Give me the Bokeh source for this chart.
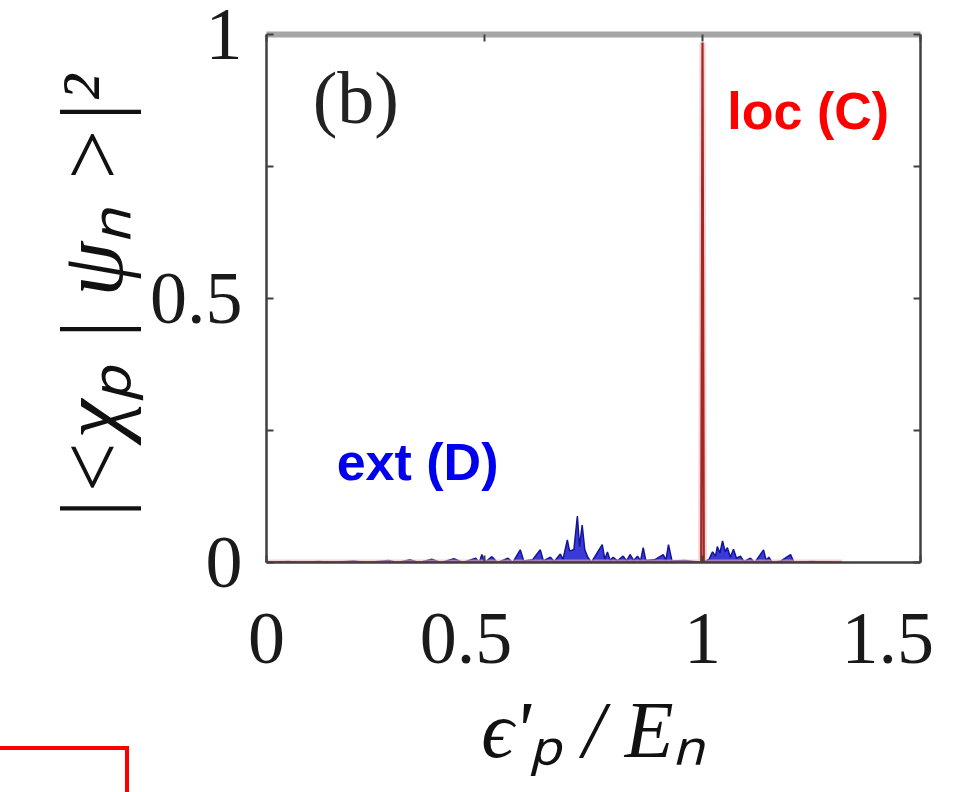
from bokeh.plotting import figure
from bokeh.models import LinearAxis, FixedTicker, Range1d, ColumnDataSource, Div
from bokeh.layouts import column
from bokeh.core.properties import value
from bokeh.embed import file_html
from bokeh.resources import INLINE

# ---- data ----
blue_x = [0.00, 0.05, 0.08, 0.12, 0.15, 0.20, 0.23, 0.28, 0.30, 0.33, 0.35, 0.38, 0.40, 0.43, 0.45,
          0.48, 0.488, 0.494, 0.50, 0.517, 0.53, 0.554, 0.565, 0.582, 0.59, 0.61, 0.628, 0.635,
          0.651, 0.66, 0.674, 0.68, 0.690, 0.695, 0.705, 0.713, 0.718, 0.724, 0.73, 0.737, 0.745,
          0.770, 0.776, 0.782, 0.788, 0.795, 0.805, 0.818, 0.826, 0.834, 0.842, 0.851, 0.858,
          0.864, 0.870, 0.890, 0.910, 0.916, 0.922, 0.930, 0.960, 0.980, 1.000, 1.015, 1.023,
          1.030, 1.034, 1.040, 1.046, 1.052, 1.057, 1.064, 1.071, 1.078, 1.087, 1.095, 1.110,
          1.120, 1.140, 1.146, 1.152, 1.160, 1.180, 1.202, 1.210, 1.250, 1.300]
blue_y = [0.000, 0.002, 0.000, 0.002, 0.000, 0.003, 0.000, 0.004, 0.000, 0.005, 0.000, 0.006, 0.000, 0.007, 0.000,
          0.008, 0.000, 0.015, 0.000, 0.011, 0.000, 0.008, 0.000, 0.024, 0.003, 0.005, 0.024, 0.003,
          0.010, 0.002, 0.016, 0.006, 0.043, 0.022, 0.024, 0.088, 0.030, 0.071, 0.024, 0.010, 0.000,
          0.034, 0.006, 0.020, 0.004, 0.010, 0.003, 0.012, 0.003, 0.015, 0.004, 0.012, 0.003,
          0.028, 0.004, 0.005, 0.015, 0.004, 0.034, 0.003, 0.004, 0.002, 0.000, 0.006, 0.020,
          0.012, 0.030, 0.018, 0.041, 0.020, 0.028, 0.010, 0.025, 0.008, 0.012, 0.002, 0.008,
          0.000, 0.024, 0.004, 0.010, 0.000, 0.003, 0.015, 0.000, 0.002, 0.000]

red_x = [0.000, 0.997, 1.000, 1.003, 1.320]
red_y = [0.000, 0.000, 0.985, 0.000, 0.000]

x_ticks = [0, 0.5, 1, 1.5]
x_tick_labels = ["0", "0.5\u00a0\u00a0", "1", "1.5\u00a0"]
y_ticks = [0, 0.25, 0.5, 0.75, 1]
y_tick_labels = ["0", "", "0.5", "", "1"]

SERIF = "Liberation Serif"
SANS = "Liberation Sans"

p = figure(width=952, height=776, output_backend="svg", toolbar_location=None,
           x_range=Range1d(0, 1.5), y_range=Range1d(0, 1.0),
           x_axis_location=None, y_axis_location=None,
           min_border_left=266, min_border_right=32, min_border_top=34, min_border_bottom=211)
p.outline_line_color = None
p.grid.visible = False
p.background_fill_color = "white"
p.border_fill_color = "white"

# ---- axes ----
def style_axis(ax, ticks, labels, line_color, line_width, show_labels):
    ax.ticker = FixedTicker(ticks=ticks)
    ax.major_label_overrides = {t: (l if show_labels else "") for t, l in zip(ticks, labels)}
    ax.axis_line_color = line_color
    ax.axis_line_width = line_width
    ax.major_tick_line_color = "#404040"
    ax.major_tick_line_width = 2
    ax.major_tick_in = 7
    ax.major_tick_out = 0
    ax.minor_tick_line_color = None
    ax.major_label_text_font = SERIF
    ax.major_label_text_font_size = "74px"
    ax.major_label_text_color = "#1a1a1a"

left = LinearAxis()
style_axis(left, y_ticks, y_tick_labels, "#404040", 2.5, True)
left.major_label_standoff = 24
left.axis_label = "|<χₚ | ψₙ >|²"
left.axis_label_text_font = SERIF
left.axis_label_text_font_style = "italic"
left.axis_label_text_font_size = "88px"
left.axis_label_text_color = "#111111"
left.axis_label_standoff = 6
p.add_layout(left, "left")

right = LinearAxis()
style_axis(right, y_ticks, y_tick_labels, "#404040", 2.5, False)
right.major_label_standoff = 0
p.add_layout(right, "right")

bottom = LinearAxis()
style_axis(bottom, x_ticks, x_tick_labels, "#404040", 2.5, True)
bottom.major_label_standoff = 34
bottom.axis_label = "ϵ'ₚ / Eₙ"
bottom.axis_label_text_font = SERIF
bottom.axis_label_text_font_style = "italic"
bottom.axis_label_text_font_size = "80px"
bottom.axis_label_text_color = "#111111"
bottom.axis_label_standoff = 4
p.add_layout(bottom, "below")

top = LinearAxis()
style_axis(top, x_ticks, x_tick_labels, "#a6a6a6", 6, False)
top.major_label_standoff = 0
p.add_layout(top, "above")

# ---- data glyphs ----
src_b = ColumnDataSource(dict(x=blue_x, y=blue_y, y0=[0] * len(blue_x)))
p.varea(x="x", y1="y0", y2="y", source=src_b, fill_color="#1818d0", fill_alpha=0.85)
p.line(x="x", y="y", source=src_b, line_color="#14149a", line_width=1.5)

p.line(x=red_x, y=red_y, line_color="#f4b0b0", line_width=6, line_alpha=0.6)
p.line(x=red_x, y=red_y, line_color="#a02828", line_width=2.2)

# ---- texts ----
p.text(x=[0.106], y=[0.88], text=["(b)"], text_font=value(SERIF), text_font_size="74px",
       text_color="#222222", text_baseline="alphabetic")
p.text(x=[1.057], y=[0.855], text=["loc (C)"], text_font=value(SANS), text_font_style="bold",
       text_font_size="52px", text_color="#ff0000", text_baseline="alphabetic")
p.text(x=[0.161], y=[0.19], text=["ext (D)"], text_font=value(SANS), text_font_style="bold",
       text_font_size="52px", text_color="#0000ee", text_baseline="alphabetic")

# ---- partial red frame of the neighbouring panel (bottom-left corner) ----
frag = Div(text="", width=136, height=60,
           styles={"position": "absolute", "left": "-12px", "top": "741px",
                   "border": "4px solid #ff0000", "box-sizing": "border-box"})

layout = column(p, frag)
open("out.html", "w").write(file_html(layout, INLINE))
